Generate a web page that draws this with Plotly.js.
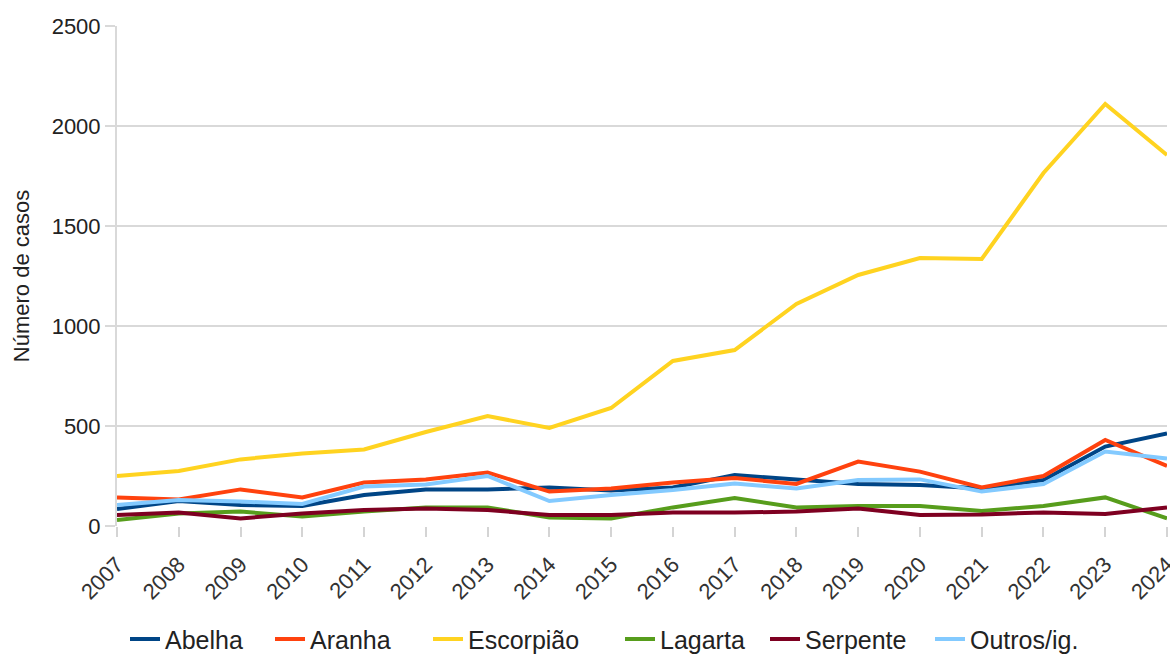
<!DOCTYPE html>
<html>
<head>
<meta charset="utf-8">
<script src="https://cdn.plot.ly/plotly-3.0.1.min.js"></script>
<style>html,body{margin:0;padding:0;background:#fff;}#chart{width:1170px;height:655px;}</style>
</head>
<body>
<div id="chart"></div>
<script>
const years = ["2007","2008","2009","2010","2011","2012","2013","2014","2015","2016","2017","2018","2019","2020","2021","2022","2023","2024"];
const abelha =    [85,125,105,100,155,183,183,193,177,193,255,233,210,205,188,230,397,463];
const aranha =    [143,133,183,143,217,232,267,172,188,217,240,210,322,272,193,250,430,300];
const escorpiao = [250,275,333,363,383,470,550,490,590,825,880,1110,1255,1340,1335,1765,2110,1855];
const lagarta =   [30,63,72,47,72,93,93,43,38,93,140,93,100,100,75,100,143,38];
const serpente =  [55,67,38,63,80,88,80,55,55,67,67,72,88,55,58,68,60,93];
const outros =    [105,130,122,110,197,208,250,125,155,180,212,188,230,233,172,210,372,338];

const names = ["Abelha","Aranha","Escorpião","Lagarta","Serpente","Outros/ig."];
const colors = ["#004586","#ff420e","#ffd320","#579d1c","#7e0021","#83caff"];
const series = [abelha, aranha, escorpiao, lagarta, serpente, outros];
const legendX = [125, 270, 428, 620, 765, 930];

const legendIds = ['legend','legend2','legend3','legend4','legend5','legend6'];

const traces = series.map((s,i)=>({
  x: years, y: s, name: names[i], type: 'scatter', mode: 'lines',
  line: {color: colors[i], width: 4}, legend: legendIds[i]
}));

const layout = {
  width: 1170, height: 655,
  margin: {l: 117, r: 3, t: 26, b: 129},
  paper_bgcolor: '#fff', plot_bgcolor: '#fff',
  font: {family: 'Liberation Sans, Arial, sans-serif', size: 22, color: '#222'},
  showlegend: true,
  xaxis: {
    type: 'category', range: [0, 17], tickangle: -45, automargin: false,
    showgrid: false, showline: false, zeroline: false, ticklabelstandoff: 6,
    ticks: 'outside', ticklen: 10, tickcolor: '#d4d4d4', tickwidth: 2,
    tickfont: {size: 22, color: '#333'}
  },
  yaxis: {
    range: [0, 2500], dtick: 500, showgrid: true, gridcolor: '#d9d9d9', gridwidth: 2,
    showline: true, linecolor: '#d9d9d9', linewidth: 2, zeroline: false, automargin: false,
    ticks: 'outside', ticklen: 10, tickcolor: '#d9d9d9', tickwidth: 2,
    tickfont: {size: 22, color: '#222'},
    title: {text: 'Número de casos', font: {size: 22, color: '#222'}, standoff: 16}
  }
};

legendIds.forEach((id,i)=>{
  layout[id] = {orientation: 'h', xref: 'container', yref: 'container',
    x: legendX[i]/1170, xanchor: 'left', y: 0.024, yanchor: 'middle',
    font: {size: 25, color: '#222'}, itemwidth: 30, bgcolor: 'rgba(0,0,0,0)'};
});

Plotly.newPlot('chart', traces, layout, {displayModeBar: false});
</script>
</body>
</html>
